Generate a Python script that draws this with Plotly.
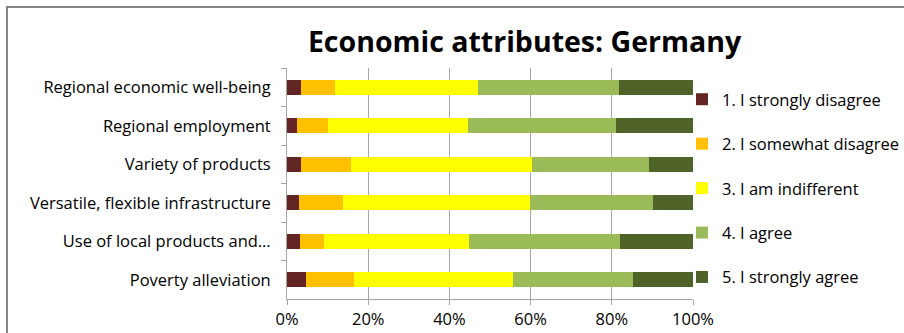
import plotly.graph_objects as go

categories = [
    "Regional economic well-being",
    "Regional employment",
    "Variety of products",
    "Versatile, flexible infrastructure",
    "Use of local products and…",
    "Poverty alleviation",
]
series_names = [
    "1. I strongly disagree",
    "2. I somewhat disagree",
    "3. I am indifferent",
    "4. I agree",
    "5. I strongly agree",
]
strongly_disagree = [3.5, 2.5, 3.5, 2.9, 3.1, 4.7]
somewhat_disagree = [8.4, 7.7, 12.3, 10.9, 6.1, 11.8]
indifferent = [35.1, 34.3, 44.5, 46.1, 35.6, 39.1]
agree = [34.7, 36.6, 28.8, 30.2, 37.2, 29.6]
strongly_agree = [18.3, 18.9, 10.9, 9.9, 18.0, 14.8]
x_tick_vals = [0, 20, 40, 60, 80, 100]
x_tick_text = ["0%", "20%", "40%", "60%", "80%", "100%"]

colors = ["#632523", "#FFC000", "#FFFF00", "#9BBB59", "#4F6228"]
values = [strongly_disagree, somewhat_disagree, indifferent, agree, strongly_agree]

FONT = "Open Sans"
FS = 16.5
fig = go.Figure()
for i, (name, vals) in enumerate(zip(series_names, values)):
    fig.add_trace(go.Bar(
        y=categories, x=vals, name=name, orientation="h",
        marker=dict(color=colors[i], line=dict(width=0)),
        legendgroup=f"g{i}",
    ))

W, H = 904, 333
L, R, T, B = 287, 211, 68, 34
pw, ph = W - L - R, H - T - B

fig.update_layout(
    width=W, height=H,
    margin=dict(l=L, r=R, t=T, b=B, autoexpand=False),
    barmode="stack", bargap=0.61,
    plot_bgcolor="white", paper_bgcolor="white",
    font=dict(family=FONT, size=FS, color="#000000"),
    title=dict(text="<b>Economic attributes: Germany</b>",
               font=dict(family=FONT, size=28.5, color="#000000"),
               x=524.5 / W, xanchor="center", y=1 - 42 / H, yanchor="middle"),
    showlegend=True,
    legend=dict(x=(682 - L) / pw, xanchor="left", y=(H - B - 82) / ph, yanchor="top",
                traceorder="grouped", tracegroupgap=20,
                font=dict(family=FONT, size=FS, color="#000000"),
                itemwidth=30, bgcolor="rgba(0,0,0,0)"),
    xaxis=dict(range=[0, 100], tickvals=x_tick_vals, ticktext=x_tick_text,
               showgrid=True, gridcolor="#A6A6A6", gridwidth=1,
               showline=True, linecolor="#A6A6A6", linewidth=1,
               ticks="outside", ticklen=5, tickcolor="#A6A6A6",
               zeroline=False, fixedrange=True, automargin=False,
               tickfont=dict(family=FONT, size=FS)),
    yaxis=dict(autorange="reversed", showline=True, linecolor="#A6A6A6", linewidth=1,
               ticks="outside", ticklen=5, tickcolor="#A6A6A6", tickson="boundaries",
               showgrid=False, ticklabelstandoff=12, automargin=False,
               tickfont=dict(family=FONT, size=FS)),
    shapes=[dict(type="rect", xref="paper", yref="paper",
                 x0=(7 - L) / pw, x1=(W + 10 - L) / pw,
                 y0=(H - B - 7) / ph, y1=-(B + 10) / ph,
                 line=dict(color="#868686", width=2), fillcolor="rgba(0,0,0,0)",
                 layer="below")],
)
fig.write_html("out.html", config={"displayModeBar": False},
               post_script="document.body.style.margin='0';document.body.style.overflow='hidden';")
